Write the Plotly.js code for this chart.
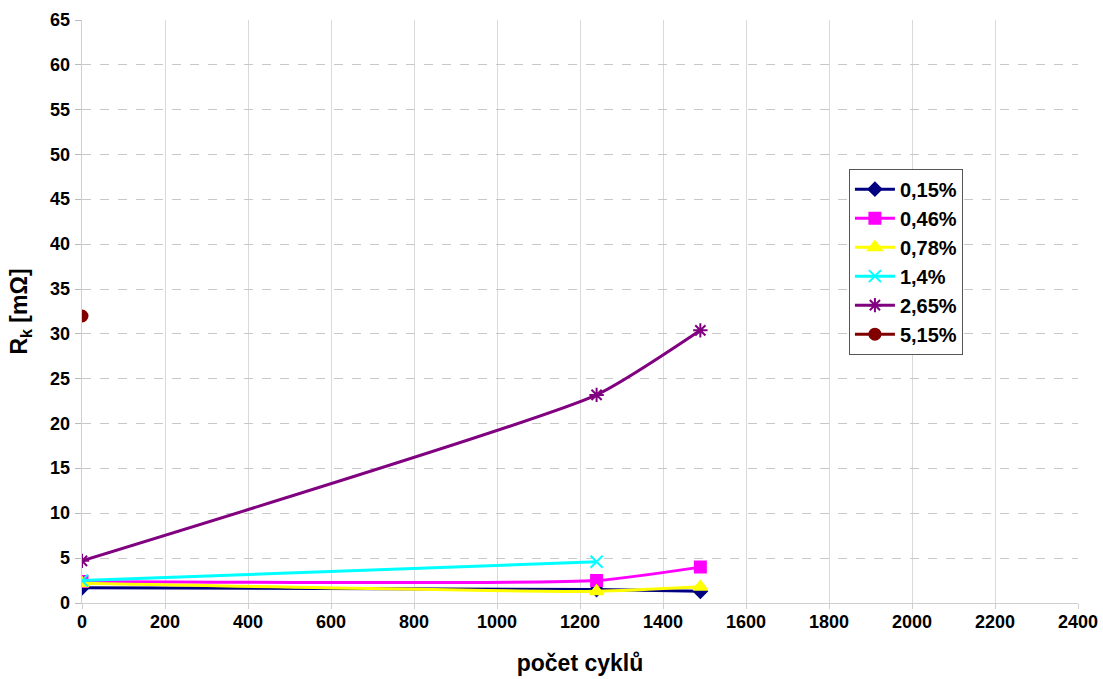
<!DOCTYPE html>
<html>
<head>
<meta charset="utf-8">
<script src="https://cdn.plot.ly/plotly-3.0.1.min.js"></script>
<style>html,body{margin:0;padding:0;background:#fff;}#chart{width:1103px;height:679px;}</style>
</head>
<body>
<div id="chart"></div>
<script>
const seriesNames = ["0,15%", "0,46%", "0,78%", "1,4%", "2,65%", "5,15%"];
const x015 = [0, 1240, 1490];
const y015 = [1.7, 1.5, 1.3];
const x046 = [0, 1240, 1490];
const y046 = [2.4, 2.5, 4.0];
const x078 = [0, 1240, 1490];
const y078 = [2.2, 1.3, 1.8];
const x14 = [0, 1240];
const y14 = [2.5, 4.6];
const x265 = [0, 1240, 1490];
const y265 = [4.7, 23.2, 30.4];
const x515 = [0];
const y515 = [32.0];
const xTicks = [0,200,400,600,800,1000,1200,1400,1600,1800,2000,2200,2400];
const yTicks = [0,5,10,15,20,25,30,35,40,45,50,55,60,65];

const styles = [
  {color:"#000080", symbol:"diamond", size:10},
  {color:"#FF00FF", symbol:"square", size:11},
  {color:"#FFFF00", symbol:"triangle-up", size:12},
  {color:"#00FFFF", symbol:"x-thin-open", size:12},
  {color:"#800080", symbol:"asterisk-open", size:12},
  {color:"#800000", symbol:"circle", size:11}
];
const xs = [x015, x046, x078, x14, x265, x515];
const ys = [y015, y046, y078, y14, y265, y515];
const traces = seriesNames.map((n,i)=>({
  type:"scatter", mode:"lines+markers", name:n, x:xs[i], y:ys[i],
  line:{color:styles[i].color, width:3, shape:"spline", smoothing:0.5},
  marker:{color:styles[i].color, symbol:styles[i].symbol, size:styles[i].size,
          line:{color:styles[i].color, width:2}}
}));

const FONT = "Liberation Sans, Arial, sans-serif";
const tickFont = {size:18, family:FONT, color:"#000", weight:"bold"};
const annotations = [];
xTicks.forEach(v => annotations.push({
  x:v, xref:"x", y:0, yref:"paper", yanchor:"top", xanchor:"center",
  yshift:-7, text:"<b>"+v+"</b>", showarrow:false, font:tickFont
}));
yTicks.forEach(v => annotations.push({
  x:0, xref:"paper", y:v, yref:"y", xanchor:"right", yanchor:"middle",
  xshift:-10, text:"<b>"+v+"</b>", showarrow:false, font:tickFont
}));

const layout = {
  width:1103, height:679,
  margin:{l:82, r:25, t:20, b:76},
  paper_bgcolor:"#fff", plot_bgcolor:"#fff",
  font:{family:FONT, color:"#000"},
  showlegend:true,
  legend:{x:0.77, y:0.745, xanchor:"left", yanchor:"top",
    bordercolor:"#555", borderwidth:1, bgcolor:"#fff",
    font:{size:20, family:FONT, weight:"bold"},
    tracegroupgap:0, itemwidth:40},
  annotations: annotations,
  xaxis:{range:[0,2400], tickmode:"array", tickvals:xTicks, showticklabels:false,
    showgrid:true, gridcolor:"#d9d9d9", gridwidth:1,
    showline:true, linecolor:"#cfcfcf", linewidth:1, zeroline:false,
    ticks:"outside", ticklen:5, tickcolor:"#cfcfcf",
    title:{text:"<b>počet cyklů</b>", font:{size:23, family:FONT}, standoff:46}},
  yaxis:{range:[0,65], tickmode:"array", tickvals:yTicks, showticklabels:false,
    showgrid:true, gridcolor:"#c8c8c8", gridwidth:1, griddash:"dash",
    showline:true, linecolor:"#cfcfcf", linewidth:1, zeroline:false,
    ticks:"outside", ticklen:6, tickcolor:"#bbbbbb",
    title:{text:"<b>R<sub>k</sub> [mΩ]</b>", font:{size:23, family:FONT}, standoff:40}}
};
Plotly.newPlot("chart", traces, layout, {displayModeBar:false});
</script>
</body>
</html>
